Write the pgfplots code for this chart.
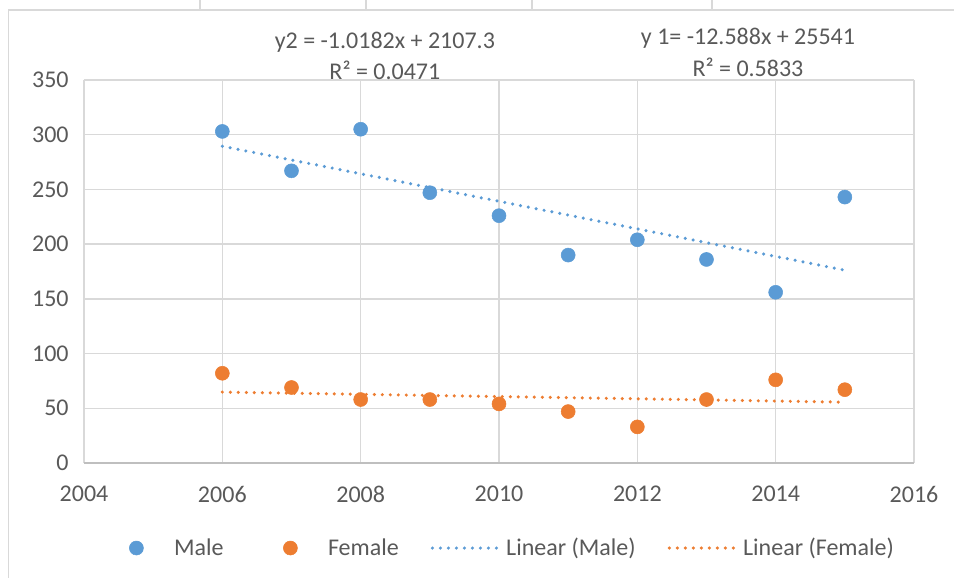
\documentclass[border=0pt]{standalone}
\usepackage{fontspec}
\setmainfont{Carlito}
\usepackage{pgfplots}
\pgfplotsset{compat=1.18}
\definecolor{male}{HTML}{5B9BD5}
\definecolor{female}{HTML}{ED7D31}
\definecolor{gridc}{HTML}{D9D9D9}
\definecolor{txt}{HTML}{595959}
\definecolor{axc}{HTML}{BFBFBF}
\newcommand{\lf}{\fontsize{18}{21}\selectfont}
\pgfplotsset{
  markleg/.style={legend image code/.code={\path (0pt,0pt) (52pt,0pt); \draw[mark repeat=2,mark phase=2,##1] plot coordinates {(0pt,0pt)(26pt,0pt)(52pt,0pt)};}},
  lineleg/.style={legend image code/.code={\draw[##1] (0pt,0pt) -- (52pt,0pt);}},
}
\begin{document}
\begin{tikzpicture}
\useasboundingbox (-63pt,-86.25pt) rectangle (652.5pt,347.25pt);
\begin{axis}[
  scale only axis, width=622.5pt, height=287.25pt,
  xmin=2004, xmax=2016, ymin=0, ymax=350,
  xtick={2004,2006,...,2016}, ytick={0,50,...,350},
  grid=major, major grid style={gridc, line width=1pt},
  axis x line*=bottom, axis y line*=left,
  x axis line style={axc, line width=1pt, -},
  y axis line style={draw=none},
  major tick length=0pt,
  tick label style={font=\lf, text=txt},
  yticklabel style={xshift=-8pt},
  xticklabel style={yshift=-14pt},
  /pgf/number format/assume math mode=true,
  /pgf/number format/1000 sep={},
  clip=false,
  legend style={at={(0.5,-0.222)}, anchor=center, draw=none, font=\lf, text=txt,
    /tikz/every even column/.append style={column sep=22pt}},
  legend columns=4,
]
\addplot[only marks, mark=*, mark size=5.25pt, mark options={draw=male, fill=male}, markleg]
  coordinates {(2006,303) (2007,267) (2008,305) (2009,247) (2010,226) (2011,190) (2012,204) (2013,186) (2014,156) (2015,243)};
\addlegendentry{Male}
\addplot[only marks, mark=*, mark size=5.25pt, mark options={draw=female, fill=female}, markleg]
  coordinates {(2006,82) (2007,69) (2008,58) (2009,58) (2010,54) (2011,47) (2012,33) (2013,58) (2014,76) (2015,67)};
\addlegendentry{Female}
\addplot[male, line width=2.6pt, dash pattern=on 0pt off 6pt, line cap=round, lineleg]
  coordinates {(2006,289.5) (2015,176.2)};
\addlegendentry{Linear (Male)}
\addplot[female, line width=2.6pt, dash pattern=on 0pt off 6pt, line cap=round, lineleg]
  coordinates {(2006,64.8) (2015,55.6)};
\addlegendentry{Linear (Female)}
\node[text=txt, font=\lf] at (axis cs:2008.35,384.7) {y2 = -1.0182x + 2107.3};
\node[text=txt, font=\lf] at (axis cs:2008.35,359) {R² = 0.0471};
\node[text=txt, font=\lf] at (axis cs:2013.6,388.4) {y 1= -12.588x + 25541};
\node[text=txt, font=\lf] at (axis cs:2013.6,362) {R² = 0.5833};
\end{axis}
\draw[gridc, line width=1pt] (-56.6pt,-86.25pt) -- (-56.6pt,339.75pt) -- (652.5pt,339.75pt);
\foreach \xx in {87,211.5,336,471} {\draw[gridc, line width=1pt] (\xx pt,339.75pt) -- (\xx pt,347.25pt);}
\end{tikzpicture}
\end{document}
